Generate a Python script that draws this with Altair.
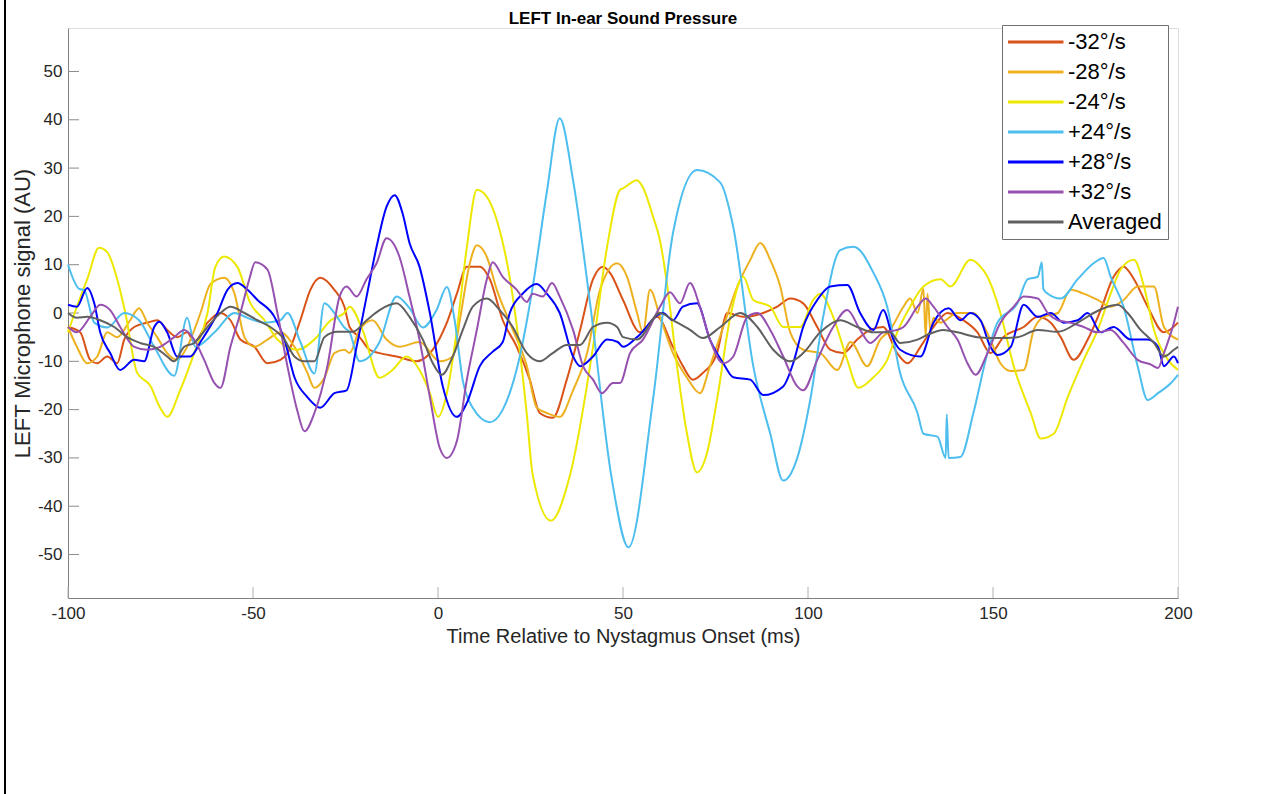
import altair as alt
import pandas as pd

# ---- data ----
SERIES = ["-32°/s", "-28°/s", "-24°/s", "+24°/s", "+28°/s", "+32°/s", "Averaged"]
COLORS = ["#D95319", "#EDB120", "#EDE800", "#4DBEEE", "#0000FF", "#9650B0", "#606060"]

M32 = [(-100, -2.9), (-96.7, -4), (-94, -9.7), (-92.1, -10.4), (-89.4, -9), (-86.7, -10.4), (-84.8, -5.5),
       (-82.1, -2.9), (-78.6, -2), (-75.9, -1.5), (-73.2, -3.5), (-70.5, -5), (-67.8, -4), (-65.9, -6),
       (-62.3, -2), (-58.8, 0), (-56.1, -1.5), (-53.4, -5.5), (-49.6, -7), (-46.1, -10.4), (-42.6, -9.7),
       (-40.7, -8.3), (-37.2, -1.5), (-34.5, 4.8), (-31.8, 7.3), (-28, 4.8), (-25.3, 1.3), (-23.9, -2.9),
       (-21.2, -5), (-18.5, -7.6), (-15.8, -8.3), (-11.2, -9), (-5.8, -10), (-1.4, -7.6), (2.4, -2),
       (5.1, 4), (7.8, 9.6), (11.3, 9.6), (14, 7), (17.5, -1.5), (21.3, -7), (24.8, -13.8), (27.5, -20.7),
       (31, -21.7), (34.8, -13.8), (38.4, -3.5), (41.9, 7), (44.6, 9.6), (46.5, 8.3), (50, 2.7),
       (54.6, -4), (59.2, -0.8), (63.5, -7), (66.2, -11), (68.9, -13.8), (71.6, -12.4), (75.4, -8.3),
       (78.2, 0), (82.5, -0.8), (87.9, 0), (91.7, 1.3), (95.2, 3), (98.7, 2), (102.5, -2.9), (106, -7.6),
       (109.5, -8.3), (113.3, -5.5), (116.8, -3.5), (120.3, -2.9), (124.1, -8.3), (126.9, -10.4),
       (130.4, -7), (133.9, -2.9), (137.7, 0), (142, -1.5), (145.8, -4), (149.3, -8.3), (152.8, -5),
       (158.3, -2.9), (162.1, -0.8), (165.6, -2), (168.3, -5), (171.8, -9.7), (175.6, -5.5), (179.1, 0.6),
       (182.6, 7.5), (185.3, 9.6), (188.1, 7), (191.8, 1.3), (196.2, -4), (200, -2)]

M28 = [(-100, -2.9), (-97.6, -7), (-94.8, -10.4), (-92.1, -9), (-89.4, -4), (-86.7, -5), (-83.2, -1.5),
       (-80.8, 1), (-78.6, -2), (-75.9, -5), (-73.2, -8.3), (-70.5, -9.7), (-67.8, -7), (-64.2, 0),
       (-61.5, 6), (-57.8, 7.3), (-55, 4), (-52.3, -5), (-49.6, -7), (-46.1, -5.5), (-42.6, -4),
       (-38.8, -7), (-35.3, -12.4), (-33.4, -15.5), (-30.7, -13.4), (-28, -8.3), (-25.3, -7.6),
       (-23.9, -8.3), (-21.2, -3.5), (-17.7, -1.5), (-13.9, -5.5), (-10.4, -7), (-5, -6), (0.5, -10),
       (4, -9), (5.9, -1.5), (8.6, 10.3), (10.5, 14), (13.2, 11.6), (15.9, 4.8), (19.4, -2), (24, -11),
       (26.7, -19.6), (29.4, -20.7), (32.9, -21.5), (36.5, -16), (40.3, -8.3), (43.8, 4.8), (48.4, 10.3),
       (51.1, 7.5), (53.8, 0), (55.4, -4), (57.3, 4.8), (60, -0.8), (63.5, -8.3), (67.3, -13.4),
       (70.8, -16.6), (73.5, -11), (77.1, -2.9), (80.9, 5.5), (84.4, 11), (87.1, 14.5), (89.8, 11),
       (92.5, 5.5), (95.2, -4), (98.7, -7.6), (103.3, -8.3), (107.9, -11.8), (111.5, -6), (116, -11),
       (119.5, -5.5), (122.2, -3.5), (125.8, 1.3), (127.6, 3), (129.6, 0), (131.2, 5), (131.8, -5),
       (132.3, 4), (133.1, -4), (133.9, -1), (135.8, -2), (140.4, 0), (144.7, 0), (146.6, -1.5),
       (149.3, -5.5), (152, -10.4), (154.8, -12), (158.3, -11.8), (161, -3.5), (163.7, -0.8), (167.5, 0),
       (171, 4.8), (174.5, 4), (178.3, 2.7), (181.8, 1.3), (185.3, 2.7), (189.1, 5.5), (193.5, 5.5),
       (196.2, -2.9), (200, -5.5)]

M24 = [(-100, -4), (-97.6, 1.3), (-94.8, 7), (-91.6, 13.5), (-89.4, 12.6), (-86.7, 7), (-84.5, 0),
       (-81.3, -12.4), (-77.8, -15), (-75.1, -19.6), (-73.2, -21.5), (-69.7, -16), (-65.9, -8.3),
       (-62.3, 0), (-60.2, 9.5), (-57.8, 11.7), (-54.2, 9.5), (-50.7, 2), (-46.9, -1.5), (-43.4, -5.5),
       (-38, -7.6), (-33.4, -5.5), (-29, -1.5), (-25.3, 0), (-23.9, 1.3), (-20.4, -3.5), (-15.8, -13.4),
       (-12.3, -11.8), (-8.5, -9), (-5, -11.8), (-2.2, -16.6), (0, -21.5), (2.4, -16.6), (5.1, -3.5),
       (7.8, 13.7), (10.5, 25.5), (12.1, 25), (15.9, 19.2), (20.2, 3.4), (24, -21), (25.6, -33.5),
       (30.5, -43), (35.7, -33.5), (41.9, -7), (45.7, 13.7), (49.2, 25.5), (50, 25.8), (53.8, 27.5),
       (55.4, 26), (58.1, 20), (60, 15), (61.9, 6), (64.6, -11), (67.3, -25), (70, -33), (72.7, -29),
       (75.4, -18), (79, -0.8), (82.5, 7.5), (85.2, 2.7), (89.8, 1.3), (93.3, -2.9), (97.9, -2.9),
       (101.4, 2.7), (103.3, 4), (106.8, -0.8), (110.6, -9.7), (113.6, -15.5), (117.7, -13.3),
       (121.4, -9.7), (124.1, -4), (127.6, 1.3), (131.2, 5.5), (135.8, 7), (138.5, 5.5), (143.9, 11),
       (146.6, 9.6), (148.5, 7.5), (152, 0), (155.6, -11), (160.2, -20.7), (162.9, -26), (166.4, -25),
       (170.2, -17.4), (174.5, -9.7), (178.3, -3.5), (181.8, 4), (184.5, 9), (188.1, 11), (190.8, 5.5),
       (193.5, -3.5), (197.3, -9.7), (200, -11.8)]

P24 = [(-100, 10), (-97, 5), (-95.6, 4.7), (-92.9, -2), (-89.4, -3), (-84.8, 0), (-80.8, -1.5),
       (-76.7, -7), (-71.3, -13), (-67.8, -1), (-65.6, -7), (-60.4, -4), (-55, 0), (-51.5, -1),
       (-46.9, -2), (-42.6, -1.5), (-40.7, 0), (-37.2, -6), (-33.4, -12.5), (-30.7, 2), (-28, 0),
       (-25.3, -3), (-23.9, -4), (-21.2, -10), (-15.8, -6), (-11.2, 3.4), (-7.7, 1), (-4.1, -3),
       (-0.4, 0.6), (2.4, 5.4), (4.5, -1.5), (6.7, -14), (9.4, -19.6), (14, -22.6), (17.5, -20),
       (22.1, -9), (25.6, 5.4), (29.4, 25), (32.9, 40.3), (36.5, 27.5), (41.1, 2), (47, -34.5),
       (51.5, -48.5), (58.1, -18), (63.5, 16.5), (70, 29.6), (76.3, 27), (79.8, 17.8), (85.2, -11),
       (89.8, -25), (93.3, -34.7), (97.1, -30), (100.6, -18), (104.1, -0.8), (108.7, 13), (112.3, 13.7),
       (117.7, 8.3), (121.4, 1.3), (124.9, -12.4), (129.6, -20.7), (131.2, -25), (135, -25.6),
       (137.2, -30), (137.5, -21), (138, -30), (141.2, -29.8), (144.7, -20.7), (148.5, -8.3),
       (151.2, -2), (156.6, 2), (159.4, 7), (162.1, 7.5), (163.2, 10.5), (163.6, 5), (164.8, 4),
       (168.3, 3), (172.9, 7), (177.2, 10.3), (179.9, 11.4), (181.8, 7.5), (185.3, 1.3), (189.1, -11),
       (191.8, -18), (194.6, -16.6), (198.1, -14.5), (200, -12.8)]

P28 = [(-100, 1.7), (-97.6, 1.3), (-94.8, 5.2), (-92.9, 2), (-91.3, -4), (-88.6, -8.3), (-85.9, -11.8),
       (-82.1, -9.7), (-79.4, -10), (-76.7, -2.9), (-75.3, -1.8), (-73.2, -4), (-70.5, -9), (-66.9, -9),
       (-64.2, -6), (-59.6, 0), (-56.9, 4.8), (-54.2, 6.2), (-51.5, 4.8), (-48.8, 2.7), (-44.2, -0.8),
       (-41.5, -5.5), (-38.8, -13.3), (-35.3, -17.4), (-31.8, -19.6), (-28, -16.6), (-24.7, -16),
       (-22, -7), (-19.3, 3.4), (-16.6, 13.7), (-13.9, 22), (-11.7, 24.4), (-9.6, 20.7), (-7.7, 14.5),
       (-5, 9.6), (-2.2, 0), (1.3, -15.2), (5.1, -21.5), (7.8, -18.6), (11.3, -11), (14.8, -8),
       (17.5, -6), (19.4, 0), (22.9, 4), (26.7, 6), (29.4, 4), (32.9, 0), (36.5, -9), (38.4, -11),
       (41.9, -9), (45.7, -5.5), (48.6, -6), (50, -7), (53.8, -5), (60.8, 0), (63.5, -1.5), (66.2, 1.3),
       (70, 2), (73.5, -5.5), (77.1, -10.4), (79.8, -13.3), (84.4, -13.8), (87.9, -17), (93.3, -15.2),
       (96, -10.4), (98.7, -2.9), (102.5, 2.7), (106, 5.5), (110.6, 5.8), (114.1, 0), (117.7, -3.5),
       (120.3, 0.6), (123.1, -5.5), (124.9, -7.6), (130.4, -9), (133.9, -2), (138, 1), (141.2, -1.5),
       (143.9, 0), (146.6, -1.5), (149.3, -7), (151.2, -8.7), (154.8, -7), (158.3, 1.7), (162.1, -0.8),
       (165.6, 0), (169.1, -2), (172.9, -1.5), (175.6, 0), (179.1, -4), (182.6, -2.9), (187.2, -5.5),
       (191.8, -5.5), (194.6, -7), (196.2, -11), (198.9, -9), (200, -10.4)]

P32 = [(-100, -2.9), (-97.6, -4), (-94, -0.8), (-91.3, 1.7), (-88.6, 0.6), (-85.9, -2.9), (-82.1, -7),
       (-78.6, -7.6), (-75.1, -7), (-71.3, -5), (-68.6, -3.5), (-65.9, -5.5), (-63.2, -9.7),
       (-60.4, -14.5), (-58.8, -15.5), (-56.1, -7), (-53.4, 0), (-51, 7), (-49.4, 10.5), (-46.1, 9),
       (-43.4, 0), (-40.7, -11), (-38, -20.3), (-36.1, -24.5), (-33.4, -20.7), (-29.9, -11),
       (-26.6, 3.4), (-24.7, 5.5), (-22, 3.4), (-19.3, 7), (-16.6, 10.3), (-13.9, 15.5), (-10.4, 11.6),
       (-7.7, 3.4), (-5, -5.5), (-2.2, -17.4), (0.5, -28), (2.4, -30), (5.1, -26.5), (7.8, -13.8),
       (10.5, -3.5), (13.2, 7), (14.8, 10.5), (17.5, 7.5), (21.3, 4.8), (24, 2.3), (25.6, 4), (28.3, 3.4),
       (30.8, 6.2), (32.9, 3.4), (36.5, -3.5), (39.2, -11), (41.9, -13.8), (44.3, -16.6), (47.3, -14.5),
       (49.2, -14.5), (51.9, -8.3), (55.4, -5.5), (60, 1.3), (62.7, 4.3), (65.4, 2), (68.1, 6.2),
       (70.8, 1.3), (73.5, -5.5), (77.1, -10.4), (79.8, -9), (83.6, -0.8), (86.3, 0), (89.8, -3.5),
       (93.3, -9), (97.1, -15.2), (98.7, -16), (102.5, -9.7), (106.8, -2.9), (110.6, 0.6), (114.1, -3.5),
       (116.8, -6.2), (120.3, -4), (124.1, -3.5), (125.8, -2.9), (129.6, 1.3), (131.8, 3), (133.9, 1.3),
       (137.7, -2.9), (140.4, -5.5), (143.1, -10.4), (145.3, -12.8), (148.5, -8.3), (152, -2),
       (155.6, 1.3), (158.3, 3.4), (162.1, 3), (164.8, 0), (167.5, -1.5), (171, -2), (174.5, -2.9),
       (178.3, -4), (181.8, -3.5), (185.3, -6.2), (189.1, -9.7), (192.7, -10.7), (194.6, -11.4),
       (196.2, -8.3), (198.9, -2), (200, 1.3)]

AVG = [(-100, 0), (-97.6, -1), (-94.8, -0.8), (-91.3, -1.5), (-87.5, -2.9), (-84, -5), (-80.5, -6.2),
       (-76.7, -7), (-73.2, -9), (-71.3, -10), (-68.6, -7), (-65.9, -6.2), (-62.3, -2.9), (-58.8, 0),
       (-56.1, 1.3), (-52.3, 0), (-48.8, -1.5), (-45.3, -2.9), (-41.5, -5.5), (-38.8, -9), (-36.1, -10),
       (-33.4, -10), (-30.7, -5), (-27.2, -3.9), (-23.1, -3.9), (-19.3, -1.5), (-15.8, 0.6), (-11.2, 2),
       (-7.7, -0.8), (-4.1, -5.5), (-1.4, -10.4), (1, -12.8), (4, -9), (6.7, -3.5), (9.4, 1.3), (13.2, 3),
       (16.7, 0.6), (20.2, -2.9), (24, -8.3), (27.5, -10), (31, -8.3), (34.8, -6.6), (38.4, -6.6),
       (41.9, -2.9), (45.7, -2), (48.4, -2.9), (50, -5), (53.8, -5.5), (60, 0), (63.5, -1.5), (68.1, -3.5),
       (71.6, -5.2), (76.3, -2.9), (81.7, 0), (86.3, -2.9), (90.6, -7.6), (95.2, -10), (98.7, -8.3),
       (103.3, -4), (108.7, -1.5), (113.3, -2.9), (117.7, -4), (122.2, -4), (124.9, -6.2), (129.6, -5.5),
       (132.3, -4.5), (136.6, -3.5), (140.4, -4), (145.8, -5), (151.2, -5.2), (156.6, -5), (162.1, -3.5),
       (167.5, -3.9), (172.9, -2), (177.2, 0), (181, 1.3), (183.7, 1.7), (186.4, 0), (189.9, -3.5),
       (193.5, -6.2), (196.2, -9), (198.9, -7.6), (200, -7)]

X_TICKS = [-100, -50, 0, 50, 100, 150, 200]
Y_TICKS = [-50, -40, -30, -20, -10, 0, 10, 20, 30, 40, 50]
X_DOMAIN = [-100, 200]
Y_DOMAIN = [-59, 59]

# ---- build table ----
rows = []
for name, pts in zip(SERIES, [M32, M28, M24, P24, P28, P32, AVG]):
    for t, v in pts:
        rows.append({"series": name, "t": t, "v": v})
df = pd.DataFrame(rows)

FONT = "Liberation Sans"
W, H = 1110, 570

xscale = alt.Scale(domain=X_DOMAIN, nice=False, zero=False)
yscale = alt.Scale(domain=Y_DOMAIN, nice=False, zero=False)
cscale = alt.Scale(domain=SERIES, range=COLORS)

legend = alt.Legend(
    title=None, orient="none", legendX=934, legendY=-3, direction="vertical",
    symbolType="M-1.158,0L4.684,0", symbolSize=361, symbolStrokeWidth=3,
    labelFontSize=22, labelFont=FONT, labelColor="black", labelOffset=38,
    rowPadding=8, padding=6, strokeColor="#707070", fillColor="white", labelLimit=300,
)

xaxis = alt.Axis(values=X_TICKS, title="Time Relative to Nystagmus Onset (ms)", ticks=False,
                 grid=False, labelFontSize=17, labelFont=FONT, labelColor="#262626",
                 labelPadding=7, titleFontSize=20, titleFont=FONT, titleFontWeight="normal",
                 titleColor="#262626", titlePadding=5, domainColor="#808080", labelFlush=False,
                 labelExpr="toString(datum.value)")
yaxis = alt.Axis(values=Y_TICKS, title="LEFT Microphone signal (AU)", ticks=False, grid=False,
                 labelFontSize=17, labelFont=FONT, labelColor="#262626", labelPadding=6,
                 titleFontSize=22, titleFont=FONT, titleFontWeight="normal", titleColor="#262626",
                 titlePadding=3, domainColor="#808080", labelExpr="toString(datum.value)")

layers = []
for name in SERIES:
    layers.append(
        alt.Chart(df).transform_filter(alt.datum.series == name)
        .mark_line(strokeWidth=2, interpolate="monotone")
        .encode(
            x=alt.X("t:Q", scale=xscale, axis=xaxis),
            y=alt.Y("v:Q", scale=yscale, axis=yaxis),
            color=alt.Color("series:N", scale=cscale, legend=legend, sort=SERIES),
        )
    )

yt = pd.DataFrame({"v": Y_TICKS})
xt = pd.DataFrame({"t": X_TICKS})
ytick_layer = alt.Chart(yt).mark_rule(color="#8c8c8c", strokeWidth=1).encode(
    y=alt.Y("v:Q", scale=yscale), x=alt.value(0), x2=alt.value(11))
xtick_layer = alt.Chart(xt).mark_rule(color="#b0b0b0", strokeWidth=1).encode(
    x=alt.X("t:Q", scale=xscale), y=alt.value(H), y2=alt.value(H - 11))
border = alt.Chart(yt).mark_rule(color="black", strokeWidth=2).encode(
    x=alt.value(-63), y=alt.value(-28), y2=alt.value(766))

chart = alt.layer(border, ytick_layer, xtick_layer, *layers).properties(
    width=W, height=H,
    title=alt.TitleParams("LEFT In-ear Sound Pressure", font=FONT, fontSize=17, fontWeight="bold",
                          color="black", anchor="middle", frame="group", offset=-42,
                          baseline="alphabetic"),
    autosize=alt.AutoSizeParams(type="none"),
    padding={"left": 68, "top": 28, "right": 100, "bottom": 196},
).configure_view(stroke=None).configure(background="white")

chart.save("out.html", embed_options={"renderer": "svg", "actions": False})
